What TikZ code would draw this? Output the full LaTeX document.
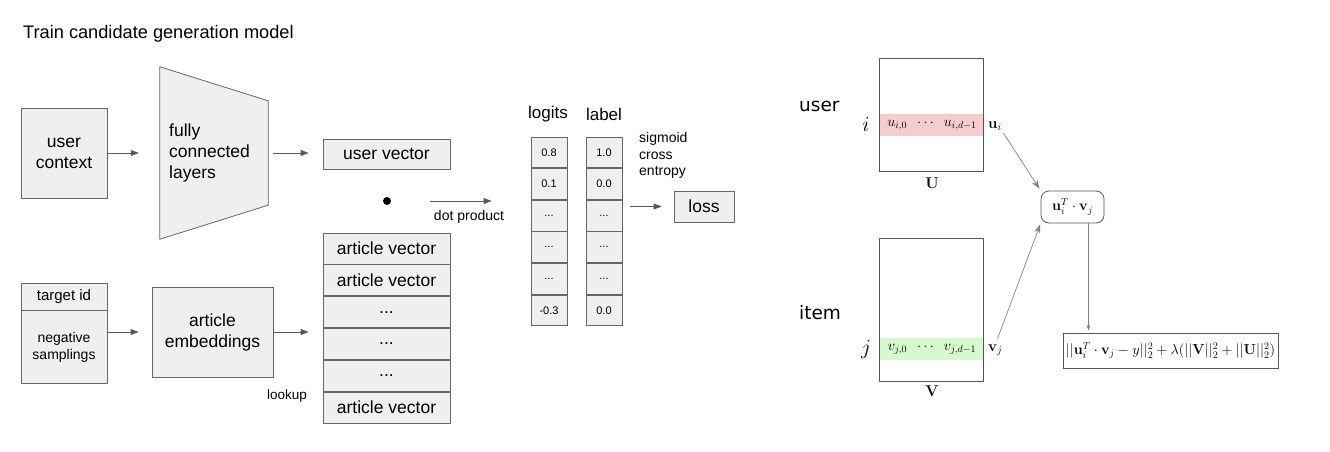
\RequirePackage{fix-cm}
\documentclass[tikz,border=0pt]{standalone}
\usepackage[no-math]{fontspec}
\setmainfont{Liberation Sans}
\newfontfamily\dejavu{DejaVu Sans}
\usetikzlibrary{positioning,arrows.meta,calc}
\definecolor{gFill}{RGB}{239,239,239}
\definecolor{gLine}{RGB}{102,102,102}
\definecolor{gArrow}{RGB}{89,89,89}
\definecolor{mLine}{RGB}{85,85,85}
\definecolor{mArrow}{RGB}{128,128,128}
\definecolor{uBand}{RGB}{245,205,205}
\definecolor{vBand}{RGB}{214,250,206}
\newcommand{\fsz}[1]{\fontsize{#1}{\dimexpr #1pt*6/5\relax}\selectfont}
\newcommand{\dotsx}{...}
\tikzset{
  blk/.style={rectangle, draw=gLine, fill=gFill, line width=0.8pt, inner sep=0pt,
              align=center, font=\fsz{17.5}},
  cell/.style={blk, minimum width=36, minimum height=30.8, font=\fsz{11}},
  vecrow/.style={blk, minimum width=127, minimum height=31},
  txt/.style={inner sep=0pt, align=left},
  flow/.style={-{Triangle[length=8pt,width=6pt]}, draw=gArrow, line width=0.8pt},
  mat/.style={rectangle, draw=mLine, line width=0.8pt, inner sep=0pt, minimum width=104},
  band/.style={rectangle, inner sep=0pt, minimum width=104, minimum height=22, font=\fsz{14.4}},
  mflow/.style={-{Stealth[length=9pt,width=6pt]}, draw=mArrow, line width=0.7pt},
  mflows/.style={-{Stealth[length=6pt,width=4pt]}, draw=mArrow, line width=0.6pt},
}

\begin{document}
\begin{tikzpicture}[x=1pt, y=-1pt]
  \useasboundingbox (0,0) rectangle (1330,452);

  %====================== CANDIDATE GENERATION ======================
  \node[txt, anchor=west, font=\fsz{18.2}] (title) at (23,34) {Train candidate generation model};

  \node[blk, minimum width=86, minimum height=90] (ctx) at (64,153) {user\\context};

  % fully connected layers (trapezoid)
  \node[minimum width=108, minimum height=172, inner sep=0pt] (fcl) at (214,153) {};
  \draw[draw=gLine, fill=gFill, line width=0.8pt]
    (fcl.north west) -- ($(fcl.north east)+(0,34)$) -- ($(fcl.south east)+(0,-34)$)
    -- (fcl.south west) -- cycle;
  \node[txt, anchor=west, font=\fsz{17.5}] (fcltxt) at (169,153) {fully\\connected\\layers};

  \node[blk, minimum width=127, minimum height=30] (uvec) at (386.5,154) {user vector};

  % target id / negative samplings
  \node[blk, minimum width=86, minimum height=27, font=\fsz{15}] (tid) at (64,296.5) {target id};
  \node[blk, minimum width=86, minimum height=73, font=\fsz{14}, below=0pt of tid] (neg) {negative\\samplings};

  \node[blk, minimum width=121, minimum height=90] (emb) at (212.5,332) {article\\embeddings};
  \node[txt, font=\fsz{13.5}] (lookup) at (287,396) {lookup};

  % article vector stack
  \node[vecrow] (av1) at (386.5,248.5) {article vector};
  \foreach \t [count=\k from 2, evaluate=\k as \j using int(\k-1)] in
      {article vector,\dotsx,\dotsx,\dotsx,article vector}
    \node[vecrow, below=0pt of av\j] (av\k) {\t};

  \node[circle, fill=black, minimum size=8, inner sep=0pt] (dot) at (387,201) {};
  \node[txt, font=\fsz{14}] (dotlbl) at (469,217) {dot product};

  % logits and label columns
  \node[txt, font=\fsz{17}] (lghead) at (548,114) {logits};
  \node[txt, font=\fsz{17}] (lbhead) at (604,114) {label};
  \node[cell] (lg1) at (549,152.4) {0.8};
  \node[cell] (lb1) at (604,152.4) {1.0};
  \foreach \a/\b [count=\k from 2, evaluate=\k as \j using int(\k-1)] in
      {0.1/0.0, \dotsx/\dotsx, \dotsx/\dotsx, \dotsx/\dotsx, -0.3/0.0} {
    \node[cell, below=0pt of lg\j] (lg\k) {\a};
    \node[cell, below=0pt of lb\j] (lb\k) {\b};
  }
  \node[txt, anchor=north west, font=\fsz{14}] (sce) at (639,132) {sigmoid\\cross\\entropy};
  \node[blk, minimum width=60, minimum height=31] (loss) at (704,206.5) {loss};

  \draw[flow, shorten >=21pt] (ctx.east) -- (fcl.west);
  \draw[flow, shorten <=5pt, shorten >=14pt] (fcl.east) -- (fcl.east -| uvec.west);
  \draw[flow, shorten >=13pt] (neg.east |- emb.east) -- (emb.west);
  \draw[flow, shorten >=14pt] (emb.east) -- (emb.east -| av1.west);
  \draw[flow, shorten <=43pt, shorten >=39pt] (dot.center) -- (dot.center -| lg1.west);
  \draw[flow, shorten <=8pt, shorten >=12pt] (loss.west -| lb1.east) -- (loss.west);

  %====================== MATRIX FACTORIZATION ======================
  \node[txt, anchor=west, font=\dejavu\fsz{18.5}] (user) at (799,106) {user};
  \node[txt, anchor=west, font=\dejavu\fsz{18.5}] (item) at (799,313) {item};

  \node[band, fill=uBand] (ub) at (932,125)
    {$u_{i,0}$\hspace{10pt}$\cdots$\hspace{10pt}$u_{i,d-1}$};
  \node[mat, minimum height=113] (U) at (931,114.5) {};
  \node[txt, font=\fsz{21.5}] (ilbl) at (866,124) {$i$};
  \node[txt, anchor=west, font=\fsz{15}] (ui) at (988,126) {$\mathbf{u}_i$};
  \node[txt, font=\fsz{15.6}] (Ulbl) at (932,183) {$\mathbf{U}$};

  \node[band, fill=vBand] (vb) at (932,349)
    {$v_{j,0}$\hspace{10pt}$\cdots$\hspace{10pt}$v_{j,d-1}$};
  \node[mat, minimum height=143] (V) at (931,309.5) {};
  \node[txt, font=\fsz{21.5}] (jlbl) at (866,350) {$j$};
  \node[txt, anchor=west, font=\fsz{15}] (vj) at (988,350) {$\mathbf{v}_j$};
  \node[txt, font=\fsz{15.6}] (Vlbl) at (932,391) {$\mathbf{V}$};

  \node[rectangle, rounded corners=8pt, draw=mLine, line width=0.8pt, inner sep=0pt,
        minimum width=63, minimum height=32, font=\fsz{14.4}] (prod) at (1072.5,207)
    {$\mathbf{u}_i^T\cdot\mathbf{v}_j$};
  \node[rectangle, draw=mLine, line width=0.8pt, inner sep=0pt,
        minimum width=215, minimum height=35, font=\fsz{14.4}] (obj) at (1170.5,350.5)
    {$||\mathbf{u}_i^T\cdot\mathbf{v}_j-y||_2^2+\lambda(||\mathbf{V}||_2^2+||\mathbf{U}||_2^2)$};

  \draw[mflow, shorten <=3pt, shorten >=2pt] (ui.south east) -- (prod.north west);
  \draw[mflow, shorten <=6pt, shorten >=1pt] (vj.north) -- (prod.south west);
  \coordinate (pdrop) at ($(prod.south)+(16,0)$);
  \draw[mflows, shorten >=2pt] (pdrop) -- (pdrop |- obj.north);

\end{tikzpicture}
\end{document}
